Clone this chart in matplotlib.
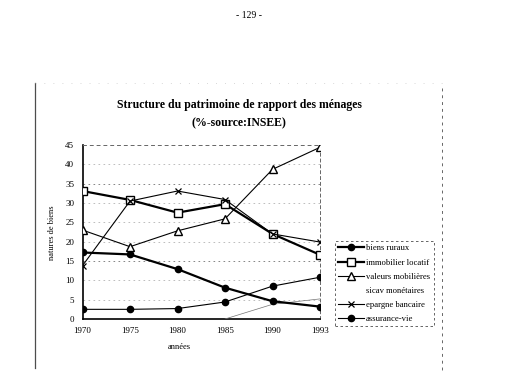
import matplotlib
matplotlib.use("Agg")
import matplotlib.pyplot as plt
from matplotlib.lines import Line2D

years = ["1970", "1975", "1980", "1985", "1990", "1993"]
biens_ruraux = [17.2, 16.7, 12.9, 8.1, 4.6, 3.2]
immobilier_locatif = [33.1, 30.8, 27.5, 29.7, 22.0, 16.6]
valeurs_mobilieres = [23.0, 18.7, 22.8, 25.9, 38.7, 44.4]
sicav_years = ["1985", "1990", "1993"]
sicav_monetaires = [0.0, 3.8, 5.2]
epargne_bancaire = [13.8, 30.5, 33.1, 30.9, 22.0, 19.9]
assurance_vie = [2.5, 2.5, 2.7, 4.4, 8.5, 10.8]
yticks = list(range(0, 50, 5))

plt.rcParams['font.family'] = ['Liberation Serif', 'DejaVu Serif']

W, H = 526, 371
fig = plt.figure(figsize=(W / 100, H / 100), dpi=100)
fig.patch.set_facecolor('white')

def fx(px):
    return px / W

def fy(py):
    return 1 - py / H

ax = fig.add_axes([fx(82.5), fy(319), (320 - 82.5) / W, 174 / H])
x = list(range(len(years)))
xs = [years.index(y) for y in sicav_years]

ax.plot(x, biens_ruraux, color='black', lw=1.6, marker='o', ms=4.5,
        mfc='black', label='biens ruraux', zorder=5)
ax.plot(x, immobilier_locatif, color='black', lw=1.6, marker='s', ms=5.5,
        mfc='white', label='immobilier locatif', zorder=5)
ax.plot(x, valeurs_mobilieres, color='black', lw=0.8, marker='^', ms=5.5,
        mfc='white', label='valeurs mobilières', zorder=5)
ax.plot(xs, sicav_monetaires, color='0.45', lw=0.5, label='sicav monétaires', zorder=4)
ax.plot(x, epargne_bancaire, color='black', lw=0.8, marker='x', ms=5,
        mew=0.9, label='epargne bancaire', zorder=5)
ax.plot(x, assurance_vie, color='black', lw=0.8, marker='o', ms=4.5,
        mfc='black', label='assurance-vie', zorder=5)

ax.set_xlim(0, len(years) - 1)
ax.set_ylim(0, 45)
ax.set_xticks(x)
ax.set_xticklabels(years)
ax.set_yticks(yticks)
ax.tick_params(length=0, labelsize=6.5, pad=6)
ax.tick_params(axis='x', pad=6)
for yv in yticks[1:-1]:
    strong = yv in (15, 35)
    ax.axhline(yv, color='0.45' if strong else '0.7', lw=0.6,
               ls=(0, (2, 4)), zorder=1)
ax.spines['left'].set_linewidth(1.2)
ax.spines['bottom'].set_linewidth(1.2)
ax.spines['top'].set_linestyle((0, (3, 4)))
ax.spines['top'].set_linewidth(0.7)
ax.spines['top'].set_color('0.4')
ax.spines['right'].set_linestyle((0, (3, 3)))
ax.spines['right'].set_linewidth(0.7)
ax.spines['right'].set_color('0.4')

fig.text(fx(52), fy(233), "natures de biens", rotation=90, ha='center',
         va='center', fontsize=6)
fig.text(fx(179), fy(347), "années", ha='center', va='center', fontsize=6)

fig.text(fx(239), fy(105), "Structure du patrimoine de rapport des ménages",
         ha='center', va='center', fontsize=8.5, fontweight='bold')
fig.text(fx(239), fy(123), "(%-source:INSEE)", ha='center', va='center',
         fontsize=8.5, fontweight='bold')
fig.text(fx(249), fy(16), "- 129 -", ha='center', va='center', fontsize=7)

leg = fig.legend(loc='upper left', bbox_to_anchor=(fx(335), fy(241)),
                 fontsize=6.2, handlelength=3.0, handletextpad=0.2,
                 labelspacing=0.7, borderaxespad=0, borderpad=0.4,
                 fancybox=False, edgecolor='0.3', framealpha=1)
leg.get_frame().set_linestyle((0, (3, 3)))
leg.get_frame().set_linewidth(0.6)
leg.legend_handles[3].set_visible(False)

fig.add_artist(Line2D([fx(35), fx(35)], [fy(83), fy(368)], color='0.3',
                      lw=0.9, transform=fig.transFigure))
fig.add_artist(Line2D([fx(442), fx(442)], [fy(88), fy(371)], color='0.4',
                      lw=0.7, ls=(0, (3, 4)), transform=fig.transFigure))
fig.add_artist(Line2D([fx(35), fx(442)], [fy(83), fy(83)], color='0.7',
                      lw=0.5, ls=(0, (1, 12)), transform=fig.transFigure))

fig.savefig("out.png", dpi=100, facecolor='white')
